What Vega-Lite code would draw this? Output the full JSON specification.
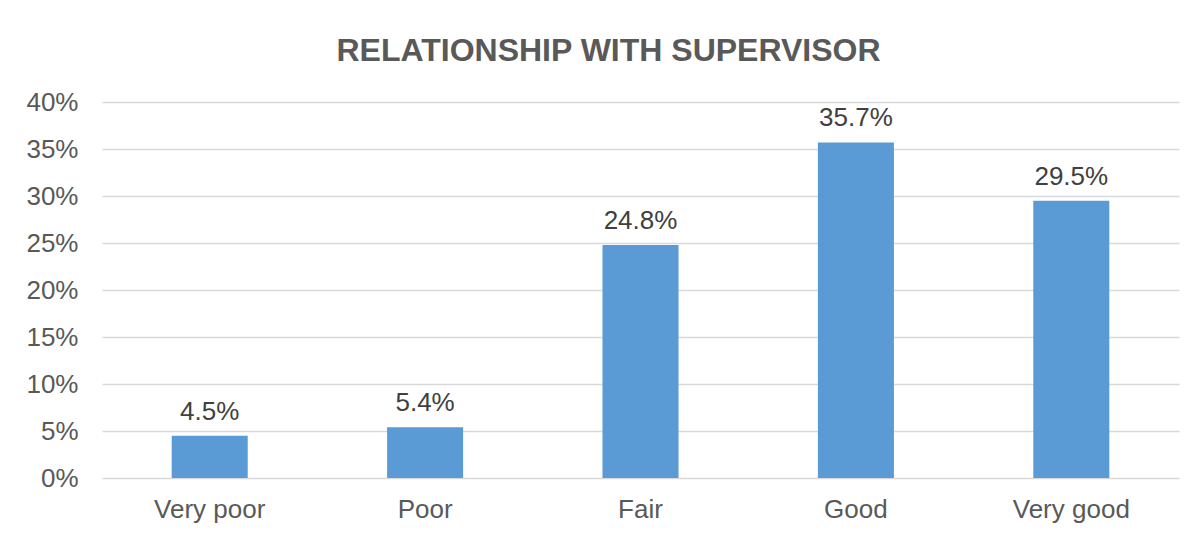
{
  "$schema": "https://vega.github.io/schema/vega-lite/v6.json",
  "width": 1077,
  "height": 376,
  "autosize": {"type": "none"},
  "padding": {"left": 102, "top": 102, "right": 25, "bottom": 58},
  "background": "white",
  "title": {
    "text": "RELATIONSHIP WITH SUPERVISOR",
    "font": "Liberation Sans",
    "fontSize": 32,
    "fontWeight": "bold",
    "color": "#595959",
    "anchor": "middle",
    "dx": -32,
    "offset": 21
  },
  "data": {
    "values": [
      {"rating": "Very poor", "share": 0.045},
      {"rating": "Poor", "share": 0.054},
      {"rating": "Fair", "share": 0.248},
      {"rating": "Good", "share": 0.357},
      {"rating": "Very good", "share": 0.295}
    ]
  },
  "encoding": {
    "x": {
      "field": "rating",
      "type": "nominal",
      "sort": null,
      "scale": {"paddingInner": 0.647, "paddingOuter": 0.3235},
      "axis": {
        "title": null,
        "labelAngle": 0,
        "domain": false,
        "ticks": false,
        "labelPadding": 18,
        "labelFont": "Liberation Sans",
        "labelFontSize": 26,
        "labelColor": "#595959"
      }
    },
    "y": {
      "field": "share",
      "type": "quantitative",
      "scale": {"domain": [0, 0.4], "nice": false},
      "axis": {
        "title": null,
        "format": ".0%",
        "values": [0, 0.05, 0.1, 0.15, 0.2, 0.25, 0.3, 0.35, 0.4],
        "domain": false,
        "ticks": false,
        "labelPadding": 24,
        "labelFont": "Liberation Sans",
        "labelFontSize": 26,
        "labelColor": "#595959",
        "gridColor": "#D9D9D9",
        "gridWidth": 1.5
      }
    }
  },
  "layer": [
    {"mark": {"type": "bar", "color": "#5B9BD5"}},
    {
      "mark": {
        "type": "text",
        "baseline": "alphabetic",
        "dy": -16,
        "font": "Liberation Sans",
        "fontSize": 26,
        "color": "#404040"
      },
      "encoding": {"text": {"field": "share", "type": "quantitative", "format": ".1%"}}
    }
  ],
  "config": {"view": {"stroke": null}}
}
